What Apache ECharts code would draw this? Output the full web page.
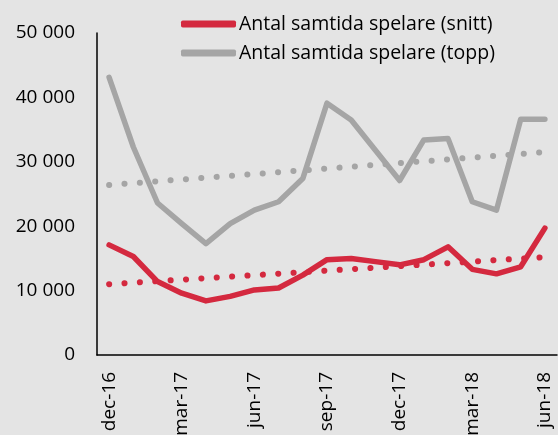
<!DOCTYPE html>
<html>
<head>
<meta charset="utf-8">
<script src="https://cdn.jsdelivr.net/npm/echarts@6/dist/echarts.min.js"></script>
<style>
  html, body { margin: 0; padding: 0; background: #e4e4e4; }
  #chart { width: 558px; height: 435px; }
</style>
</head>
<body>
<div id="chart"></div>
<script>
const months = ['dec-16', 'jan-17', 'feb-17', 'mar-17', 'apr-17', 'maj-17', 'jun-17', 'jul-17', 'aug-17',
  'sep-17', 'okt-17', 'nov-17', 'dec-17', 'jan-18', 'feb-18', 'mar-18', 'apr-18', 'maj-18', 'jun-18']

// värden
const snitt = [17100, 15300, 11400, 9600, 8400, 9100, 10100, 10400, 12400, 14800,
  15000, 14500, 14000, 14800, 16800, 13300, 12600, 13700, 19700]
const topp = [43100, 32300, 23600, 20400, 17300, 20400, 22500, 23800, 27400, 39100,
  36500, 31800, 27100, 33400, 33600, 23800, 22500, 36600, 36600]

// trendlinjer: start- och slutvärde
const trendSnitt = [11000, 15200]
const trendTopp = [26400, 31500]

const yTicks = [0, 10000, 20000, 30000, 40000, 50000]

const red = '#d4293f'
const grey = '#a5a5a5'
const font = 'Open Sans'

const endsOnly = (pair) => months.map((m, i) => i === 0 ? pair[0] : (i === months.length - 1 ? pair[1] : null))

const chart = echarts.init(document.getElementById('chart'))

const option = {
  backgroundColor: '#e4e4e4',
  animation: false,
  textStyle: { fontFamily: font },
  legend: {
    orient: 'vertical',
    left: 181,
    top: 14,
    padding: 0,
    itemWidth: 55,
    itemHeight: 7,
    itemGap: 9,
    icon: 'roundRect',
    data: ['Antal samtida spelare (snitt)', 'Antal samtida spelare (topp)'],
    textStyle: { color: '#000', fontSize: 19.5, fontFamily: font, padding: [0, 0, 0, -2] }
  },
  grid: { left: 97, right: 1, top: 33, bottom: 80, outerBoundsMode: 'none' },
  xAxis: {
    type: 'category',
    data: months,
    boundaryGap: true,
    axisLine: { lineStyle: { color: '#000', width: 1.5 } },
    axisTick: { show: false },
    axisLabel: {
      rotate: 90,
      interval: 2,
      color: '#000',
      fontSize: 19,
      fontFamily: font,
      margin: 17
    }
  },
  yAxis: {
    type: 'value',
    min: 0,
    max: yTicks[yTicks.length - 1],
    interval: 10000,
    axisLine: { show: true, lineStyle: { color: '#000', width: 1.5 } },
    axisTick: { show: false },
    splitLine: { show: false },
    axisLabel: {
      color: '#000',
      fontSize: 19,
      fontFamily: font,
      margin: 22,
      formatter: v => String(v).replace(/\B(?=(\d{3})+(?!\d))/g, ' ')
    }
  },
  series: [
    {
      name: 'Antal samtida spelare (snitt)',
      type: 'line',
      data: snitt,
      symbol: 'none',
      z: 4,
      itemStyle: { color: red },
      lineStyle: { color: red, width: 5.5, cap: 'round', join: 'round' }
    },
    {
      name: 'Antal samtida spelare (topp)',
      type: 'line',
      data: topp,
      symbol: 'none',
      z: 3,
      itemStyle: { color: grey },
      lineStyle: { color: grey, width: 5.5, cap: 'round', join: 'round' }
    },
    {
      name: 'trend snitt',
      type: 'line',
      data: endsOnly(trendSnitt),
      connectNulls: true,
      symbol: 'none',
      z: 2,
      lineStyle: { color: red, width: 6, type: [0.1, 15.3], cap: 'round' }
    },
    {
      name: 'trend topp',
      type: 'line',
      data: endsOnly(trendTopp),
      connectNulls: true,
      symbol: 'none',
      z: 2,
      lineStyle: { color: grey, width: 6, type: [0.1, 15.3], cap: 'round' }
    }
  ]
}

chart.setOption(option)
window.addEventListener('resize', () => chart.resize())
</script>
</body>
</html>
